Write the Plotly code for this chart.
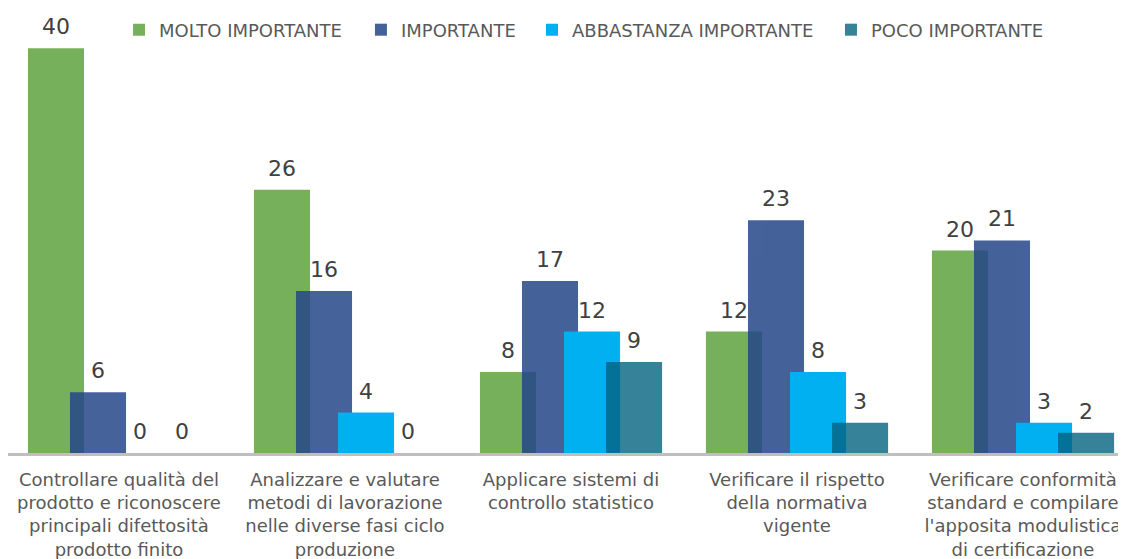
import plotly.graph_objects as go

categories = [
    "Controllare qualità del<br>prodotto e riconoscere<br>principali difettosità<br>prodotto finito",
    "Analizzare e valutare<br>metodi di lavorazione<br>nelle diverse fasi ciclo<br>produzione",
    "Applicare sistemi di<br>controllo statistico",
    "Verificare il rispetto<br>della normativa<br>vigente",
    "Verificare conformità<br>standard e compilare<br>l'apposita modulistica<br>di certificazione",
]
series_names = ["MOLTO IMPORTANTE", "IMPORTANTE", "ABBASTANZA IMPORTANTE", "POCO IMPORTANTE"]
molto = [40, 26, 8, 12, 20]
importante = [6, 16, 17, 23, 21]
abbastanza = [0, 4, 12, 8, 3]
poco = [0, 0, 9, 3, 2]

series_values = [molto, importante, abbastanza, poco]
colors = ["#77B05A", "#254688", "#00B0F0", "#04637F"]
opacities = [1.0, 0.85, 1.0, 0.8]
legend_ids = ["legend", "legend2", "legend3", "legend4"]
legend_x = [0.0993, 0.3157, 0.4687, 0.7361]

bar_w = 0.248
step = 0.186
first_off = -0.4027

fig = go.Figure()
annotations = []
xs = list(range(len(categories)))
for k, (name, vals) in enumerate(zip(series_names, series_values)):
    off = first_off + k * step
    fig.add_trace(go.Bar(
        x=xs, y=vals, name=name,
        marker=dict(color=colors[k], line=dict(width=0)),
        opacity=opacities[k],
        width=bar_w, offset=off,
        legend=legend_ids[k],
    ))
    for i, v in enumerate(vals):
        annotations.append(dict(
            x=i + off + bar_w / 2, y=v, xref="x", yref="y",
            text=str(v), showarrow=False, yanchor="bottom", yshift=7,
            font=dict(family="DejaVu Sans", size=22, color="#404040"),
        ))

legend_style = dict(
    orientation="h", y=0.9506, xanchor="left", yanchor="middle",
    font=dict(family="DejaVu Sans", size=18, color="#595959"),
    bgcolor="rgba(0,0,0,0)",
)

# the page body has an 8px margin, so the figure is sized to fill the rest
layout_legends = {lid: dict(legend_style, x=lx) for lid, lx in zip(legend_ids, legend_x)}
fig.update_layout(
    barmode="overlay",
    width=1118, height=551,
    margin=dict(l=0, r=0, t=0, b=106, autoexpand=False),
    paper_bgcolor="white", plot_bgcolor="white",
    showlegend=True,
    annotations=annotations,
    font=dict(family="DejaVu Sans", color="#595959"),
    **layout_legends,
)
fig.update_xaxes(
    tickmode="array", tickvals=xs, ticktext=categories,
    range=[-0.491, 4.456],
    showline=True, linecolor="#BFBFBF", linewidth=3,
    showgrid=False, zeroline=False, ticks="",
    tickfont=dict(family="DejaVu Sans", size=18, color="#595959"),
    ticklabelstandoff=8, automargin=False,
)
fig.update_yaxes(range=[0, 43.97], visible=False, showgrid=False, zeroline=False)

fig.write_html("out.html")
